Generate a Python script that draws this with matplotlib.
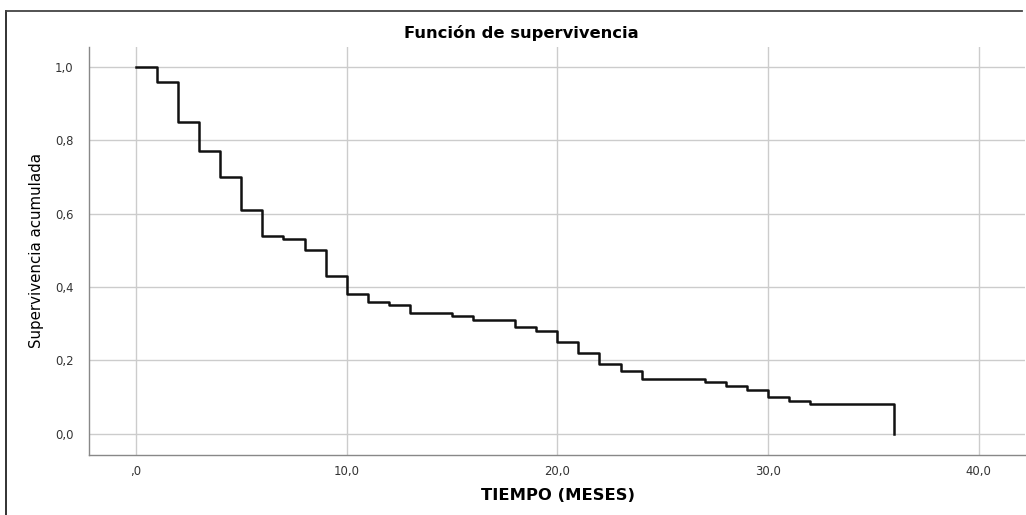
import numpy as np
import matplotlib.pyplot as plt
from matplotlib.lines import Line2D

plt.rcParams['font.family'] = ['DejaVu Sans']

# Kaplan-Meier steps (time in months, cumulative survival)
tiempo = [0, 1, 2, 3, 4, 5, 6, 7, 8, 9, 10, 11, 12, 13, 15, 16, 18, 19, 20,
          21, 22, 23, 24, 27, 28, 29, 30, 31, 32, 36]
supervivencia = [1.00, 0.96, 0.85, 0.77, 0.70, 0.61, 0.54, 0.53, 0.50, 0.43,
                 0.38, 0.36, 0.35, 0.33, 0.32, 0.31, 0.29, 0.28, 0.25, 0.22,
                 0.19, 0.17, 0.15, 0.14, 0.13, 0.12, 0.10, 0.09, 0.08, 0.00]

x_ticks = [0, 10, 20, 30, 40]
x_labels = [',0', '10,0', '20,0', '30,0', '40,0']
y_ticks = [0.0, 0.2, 0.4, 0.6, 0.8, 1.0]
y_labels = ['0,0', '0,2', '0,4', '0,6', '0,8', '1,0']

W, H = 1026, 515
fig = plt.figure(figsize=(W / 100, H / 100), dpi=100)
ax = fig.add_axes([89 / W, 1 - 455 / H, (1025 - 89) / W, (455 - 47) / H])

ax.step(tiempo, supervivencia, where='post', color='#111111', lw=1.8)

ax.set_xlim(-2.23, 42.2)
ax.set_ylim(-0.058, 1.055)
ax.set_xticks(x_ticks)
ax.set_xticklabels(x_labels)
ax.set_yticks(y_ticks)
ax.set_yticklabels(y_labels)
ax.tick_params(length=0, labelsize=8.4, colors='#333333')
ax.tick_params(axis='y', pad=11)
ax.tick_params(axis='x', pad=7)
ax.grid(True, color='#cccccc', lw=1)
ax.set_axisbelow(True)

for s in ['top', 'right']:
    ax.spines[s].set_visible(False)
for s in ['left', 'bottom']:
    ax.spines[s].set_color('#888888')
    ax.spines[s].set_linewidth(1)

fig.text(521 / W, 1 - 33 / H, 'Función de supervivencia', ha='center',
         va='center', fontsize=11.8, fontweight='bold')
fig.text(558 / W, 1 - 495 / H, 'TIEMPO (MESES)', ha='center', va='center',
         fontsize=11.8, fontweight='bold')
fig.text(37 / W, 1 - 251 / H, 'Supervivencia acumulada', ha='center',
         va='center', rotation=90, fontsize=10.8)

# outer frame (left and top edges)
fig.add_artist(Line2D([6 / W, 6 / W], [0, 1 - 11 / H], color='#222222', lw=1.3))
fig.add_artist(Line2D([6 / W, 1022 / W], [1 - 11 / H, 1 - 11 / H],
                      color='#444444', lw=1.3))

fig.savefig('out.png', dpi=100)
